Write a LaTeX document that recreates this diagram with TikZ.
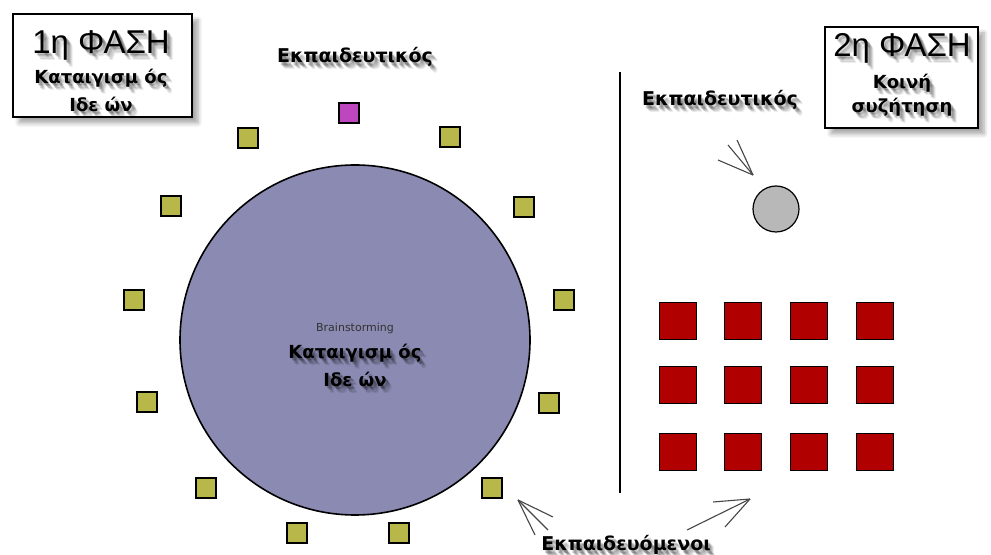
\documentclass[tikz,border=0pt]{standalone}
\usepackage{fontspec}
\setmainfont{DejaVu Sans}
\newfontfamily\headfont{Liberation Sans}
\usetikzlibrary{shadows.blur}
\definecolor{seatcol}{RGB}{184,184,74}
\definecolor{leadcol}{RGB}{190,70,190}
\definecolor{roundcol}{RGB}{138,138,178}
\definecolor{pupilcol}{RGB}{176,0,0}
\definecolor{tablecol}{RGB}{184,184,184}
\definecolor{pointercol}{RGB}{70,70,70}

% text with a soft grey drop shadow: name, position, font, text
\newcommand\shadowlabel[4]{%
  \foreach \d/\o in {2/0.16,3/0.16,4/0.13,5/0.10,6/0.07}{
    \node[textbox, text=black, opacity=\o] at ([xshift=\d*0.5pt,yshift=-\d*0.6pt]#2) {#3#4};
  }
  \node[textbox] (#1) at (#2) {#3#4};
}

\begin{document}
\begin{tikzpicture}[x=0.5pt,y=-0.5pt,
  textbox/.style={inner sep=0pt, align=center},
  phasebox/.style={draw=black, line width=1.3pt, fill=white,
    blur shadow={shadow xshift=3pt, shadow yshift=-3pt, shadow blur steps=6, shadow opacity=35}},
  seat/.style={draw=black, line width=0.6pt, fill=seatcol, minimum size=10pt, inner sep=0pt},
  leadseat/.style={seat, fill=leadcol},
  pupil/.style={draw=black, line width=0.5pt, fill=pupilcol, minimum size=18.5pt, inner sep=0pt},
  pointer/.style={draw=pointercol, line width=0.55pt}]
\useasboundingbox (0,0) rectangle (991,555);

% phase headings
\draw[phasebox] (13,14) rectangle (192,117);
\draw[phasebox] (825,27) rectangle (978,128);
\shadowlabel{ph1}{101,45}{\headfont\fontsize{16.5}{18}\selectfont}{1η ΦΑΣΗ}
\shadowlabel{ph1a}{101,78}{\bfseries\fontsize{9}{11}\selectfont}{Καταιγισμ ός}
\shadowlabel{ph1b}{101,104}{\bfseries\fontsize{9}{11}\selectfont}{Ιδε ών}
\shadowlabel{ph2}{902,48}{\headfont\fontsize{16.5}{18}\selectfont}{2η ΦΑΣΗ}
\shadowlabel{ph2a}{902,83}{\bfseries\fontsize{9}{11}\selectfont}{Κοινή}
\shadowlabel{ph2b}{902,107}{\bfseries\fontsize{9}{11}\selectfont}{συζήτηση}

% phase 1: the round table
\node[circle, draw=black, line width=0.8pt, fill=roundcol, minimum size=175pt, inner sep=0pt] (round) at (355,340) {};
\node[textbox, text=black!80, font=\fontsize{5.5}{6}\selectfont] (bs) at (355,328) {Brainstorming};
\shadowlabel{rt1}{355,353}{\bfseries\fontsize{9}{11}\selectfont}{Καταιγισμ ός}
\shadowlabel{rt2}{355,379}{\bfseries\fontsize{9}{11}\selectfont}{Ιδε ών}

\node[leadseat] (lead) at (349,113) {};
\foreach \n/\p in {s1/{248,138}, s2/{450,137}, s3/{171,206}, s4/{524,207},
                   s5/{134,300}, s6/{564,300}, s7/{147,402}, s8/{549,403},
                   s9/{206,488}, s10/{492,488}, s11/{297,533}, s12/{399,533}}
  \node[seat] (\n) at (\p) {};

\shadowlabel{lead1}{355,57}{\bfseries\fontsize{9.5}{11}\selectfont}{Εκπαιδευτικός}

% separator
\coordinate (sepA) at (620,72);
\coordinate (sepB) at (620,493);
\draw[line width=1pt] (sepA) -- (sepB);

% phase 2: teacher and class
\shadowlabel{lead2}{720,100}{\bfseries\fontsize{9.5}{11}\selectfont}{Εκπαιδευτικός}
\node[circle, draw=black, line width=0.6pt, fill=tablecol, minimum size=23pt, inner sep=0pt] (teacher) at (776,209) {};

\foreach \c [count=\i] in {678,743,809,875}
  \foreach \r [count=\j] in {321,385,452}
    \node[pupil] (p\i\j) at (\c,\r) {};

\shadowlabel{pupils}{626,545}{\bfseries\fontsize{9.5}{11}\selectfont}{Εκπαιδευόμενοι}

% pointers
\coordinate (tipT) at (753,175);
\foreach \e in {{718,160},{728,145},{737,140}}
  \draw[pointer] (tipT) -- (\e);
\coordinate (tipL) at (518,500);
\foreach \e in {{553,517},{548,530},{535,535}}
  \draw[pointer] (tipL) -- (\e);
\coordinate (tipR) at (750,499);
\foreach \e in {{713,502},{687,530},{725,527}}
  \draw[pointer] (tipR) -- (\e);
\end{tikzpicture}
\end{document}
